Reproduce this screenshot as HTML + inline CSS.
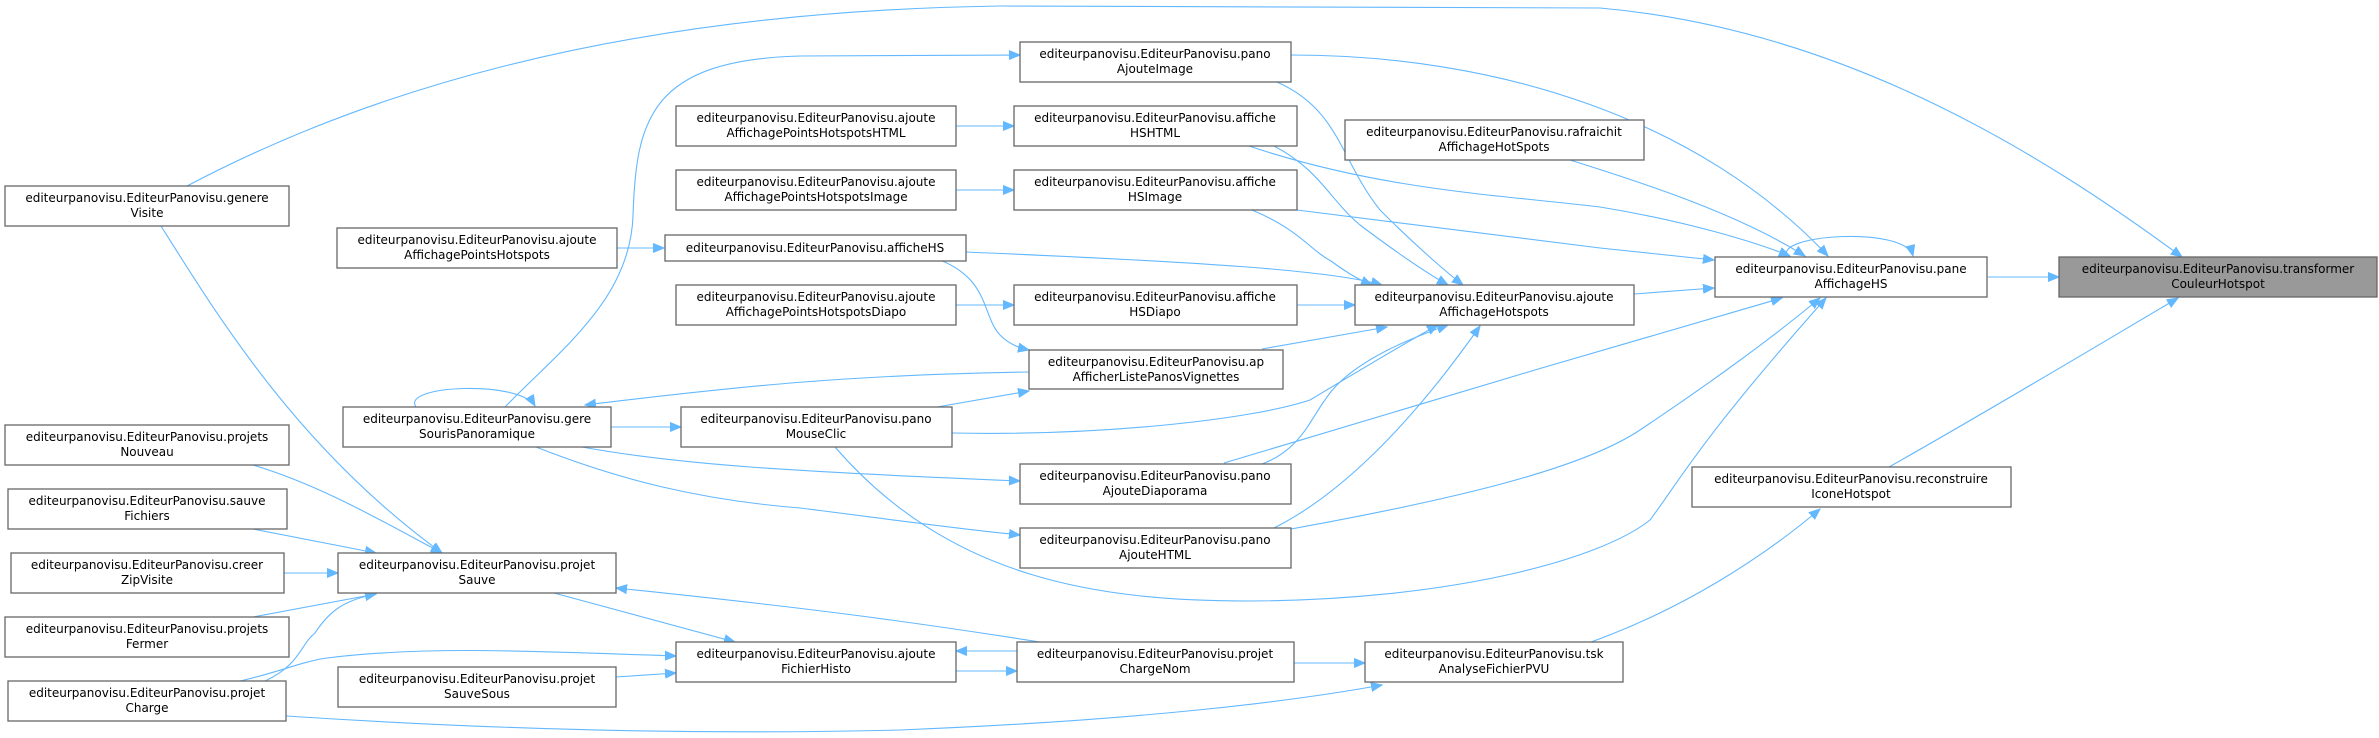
<!DOCTYPE html>
<html><head><meta charset="utf-8"><style>
html,body{margin:0;padding:0;background:#fff;}
svg{display:block;}
text{font-family:"DejaVu Sans","Liberation Sans",sans-serif;font-size:12px;fill:#000;text-anchor:middle;}
.n{fill:#fff;stroke:#666;stroke-width:1.3;}
.g{fill:#999;stroke:#666;stroke-width:1.3;}
path.e{fill:none;stroke:#63b8ff;stroke-width:1.1;marker-end:url(#a);}
</style></head><body>
<svg width="2379" height="738" viewBox="0 0 2379 738" xmlns="http://www.w3.org/2000/svg">
<defs><marker id="a" markerUnits="userSpaceOnUse" markerWidth="12" markerHeight="10" refX="11" refY="5" orient="auto"><path d="M0,0.5 L11,5 L0,9.5 z" fill="#63b8ff" stroke="#63b8ff"/></marker></defs>

<!-- edges -->
<path class="e" d="M1988,277 L2059,277"/>
<path class="e" d="M187,186 C350,100 600,12 1000,6 L1600,8 C1850,30 2050,160 2182,257"/>
<path class="e" d="M1889,467 C1990,410 2090,350 2178,298"/>
<path class="e" d="M1788,257 C1770,235 1905,225 1913,256"/>
<path class="e" d="M1291,55 C1500,55 1700,120 1828,256"/>
<path class="e" d="M1570,160 C1650,185 1740,215 1805,256"/>
<path class="e" d="M1249,146 C1380,190 1500,195 1600,207 C1680,220 1750,240 1790,256"/>
<path class="e" d="M1297,210 L1600,248 L1714,260"/>
<path class="e" d="M1634,294 L1714,288"/>
<path class="e" d="M1224,463 C1400,410 1600,350 1782,298"/>
<path class="e" d="M1291,529 C1450,500 1580,470 1640,430 C1700,390 1770,340 1820,298"/>
<path class="e" d="M835,447 C950,580 1100,601 1250,601 C1450,600 1600,560 1650,520 C1680,480 1700,440 1826,298"/>
<path class="e" d="M1591,642 C1680,610 1760,560 1820,509"/>
<path class="e" d="M286,716 C500,730 700,735 900,730 C1150,720 1300,700 1382,685"/>
<path class="e" d="M1294,663 L1365,663"/>
<path class="e" d="M1017,651 L956,651"/>
<path class="e" d="M956,671 L1017,671"/>
<path class="e" d="M1040,642 C900,620 800,607 616,588"/>
<path class="e" d="M554,593 L735,642"/>
<path class="e" d="M616,677 L676,673"/>
<path class="e" d="M240,681 C280,672 300,662 327,658 C430,645 550,652 676,656"/>
<path class="e" d="M265,681 C300,665 300,645 315,633 C330,610 345,600 376,594"/>
<path class="e" d="M253,617 L376,594"/>
<path class="e" d="M284,573 L338,573"/>
<path class="e" d="M253,529 L376,553"/>
<path class="e" d="M253,465 C320,485 380,520 442,553"/>
<path class="e" d="M161,226 C220,320 300,450 442,553"/>
<path class="e" d="M416,407 C400,385 520,380 535,406"/>
<path class="e" d="M505,407 C560,350 630,300 633,216 C636,120 650,60 800,56 L1020,55"/>
<path class="e" d="M611,427 L681,427"/>
<path class="e" d="M582,447 C680,465 800,472 1020,481"/>
<path class="e" d="M536,447 C620,480 700,500 800,508 C880,518 950,528 1020,535"/>
<path class="e" d="M1029,372 C850,375 750,385 585,405"/>
<path class="e" d="M937,407 L1029,391"/>
<path class="e" d="M940,260 C990,280 982,316 1000,335 C1010,345 1020,348 1029,350"/>
<path class="e" d="M1262,349 L1387,327"/>
<path class="e" d="M617,248 L664,248"/>
<path class="e" d="M956,126 L1014,126"/>
<path class="e" d="M956,190 L1014,190"/>
<path class="e" d="M956,305 L1014,305"/>
<path class="e" d="M1297,305 L1355,305"/>
<path class="e" d="M966,252 C1200,262 1330,270 1382,285"/>
<path class="e" d="M1252,210 C1300,230 1310,250 1331,261 C1350,275 1360,280 1372,285"/>
<path class="e" d="M1274,146 C1320,170 1330,200 1360,225 C1400,255 1430,275 1448,285"/>
<path class="e" d="M1277,82 C1340,110 1340,160 1380,210 C1420,250 1450,275 1463,285"/>
<path class="e" d="M952,433 C1100,436 1250,420 1310,400 C1360,370 1410,340 1438,325"/>
<path class="e" d="M1262,464 C1300,450 1310,420 1325,400 C1350,360 1420,335 1448,325"/>
<path class="e" d="M1274,528 C1330,500 1400,440 1480,326"/>

<!-- nodes -->
<rect class="n" x="5" y="186" width="284" height="40"/><text x="147" y="202">editeurpanovisu.EditeurPanovisu.genere</text><text x="147" y="217">Visite</text>
<rect class="n" x="337" y="228" width="280" height="40"/><text x="477" y="244">editeurpanovisu.EditeurPanovisu.ajoute</text><text x="477" y="259">AffichagePointsHotspots</text>
<rect class="n" x="343" y="407" width="268" height="40"/><text x="477" y="423">editeurpanovisu.EditeurPanovisu.gere</text><text x="477" y="438">SourisPanoramique</text>
<rect class="n" x="5" y="425" width="284" height="40"/><text x="147" y="441">editeurpanovisu.EditeurPanovisu.projets</text><text x="147" y="456">Nouveau</text>
<rect class="n" x="8" y="489" width="279" height="40"/><text x="147" y="505">editeurpanovisu.EditeurPanovisu.sauve</text><text x="147" y="520">Fichiers</text>
<rect class="n" x="11" y="553" width="273" height="40"/><text x="147" y="569">editeurpanovisu.EditeurPanovisu.creer</text><text x="147" y="584">ZipVisite</text>
<rect class="n" x="338" y="553" width="278" height="40"/><text x="477" y="569">editeurpanovisu.EditeurPanovisu.projet</text><text x="477" y="584">Sauve</text>
<rect class="n" x="5" y="617" width="284" height="40"/><text x="147" y="633">editeurpanovisu.EditeurPanovisu.projets</text><text x="147" y="648">Fermer</text>
<rect class="n" x="8" y="681" width="278" height="40"/><text x="147" y="697">editeurpanovisu.EditeurPanovisu.projet</text><text x="147" y="712">Charge</text>
<rect class="n" x="338" y="667" width="278" height="40"/><text x="477" y="683">editeurpanovisu.EditeurPanovisu.projet</text><text x="477" y="698">SauveSous</text>
<rect class="n" x="676" y="106" width="280" height="40"/><text x="816" y="122">editeurpanovisu.EditeurPanovisu.ajoute</text><text x="816" y="137">AffichagePointsHotspotsHTML</text>
<rect class="n" x="676" y="170" width="280" height="40"/><text x="816" y="186">editeurpanovisu.EditeurPanovisu.ajoute</text><text x="816" y="201">AffichagePointsHotspotsImage</text>
<rect class="n" x="665" y="235" width="301" height="26"/><text x="815" y="252">editeurpanovisu.EditeurPanovisu.afficheHS</text>
<rect class="n" x="676" y="285" width="280" height="40"/><text x="816" y="301">editeurpanovisu.EditeurPanovisu.ajoute</text><text x="816" y="316">AffichagePointsHotspotsDiapo</text>
<rect class="n" x="681" y="407" width="271" height="40"/><text x="816" y="423">editeurpanovisu.EditeurPanovisu.pano</text><text x="816" y="438">MouseClic</text>
<rect class="n" x="676" y="642" width="280" height="40"/><text x="816" y="658">editeurpanovisu.EditeurPanovisu.ajoute</text><text x="816" y="673">FichierHisto</text>
<rect class="n" x="1020" y="42" width="271" height="40"/><text x="1155" y="58">editeurpanovisu.EditeurPanovisu.pano</text><text x="1155" y="73">AjouteImage</text>
<rect class="n" x="1014" y="106" width="283" height="40"/><text x="1155" y="122">editeurpanovisu.EditeurPanovisu.affiche</text><text x="1155" y="137">HSHTML</text>
<rect class="n" x="1014" y="170" width="283" height="40"/><text x="1155" y="186">editeurpanovisu.EditeurPanovisu.affiche</text><text x="1155" y="201">HSImage</text>
<rect class="n" x="1014" y="285" width="283" height="40"/><text x="1155" y="301">editeurpanovisu.EditeurPanovisu.affiche</text><text x="1155" y="316">HSDiapo</text>
<rect class="n" x="1029" y="350" width="254" height="39"/><text x="1156" y="366">editeurpanovisu.EditeurPanovisu.ap</text><text x="1156" y="381">AfficherListePanosVignettes</text>
<rect class="n" x="1020" y="464" width="271" height="40"/><text x="1155" y="480">editeurpanovisu.EditeurPanovisu.pano</text><text x="1155" y="495">AjouteDiaporama</text>
<rect class="n" x="1020" y="528" width="271" height="40"/><text x="1155" y="544">editeurpanovisu.EditeurPanovisu.pano</text><text x="1155" y="559">AjouteHTML</text>
<rect class="n" x="1017" y="642" width="277" height="40"/><text x="1155" y="658">editeurpanovisu.EditeurPanovisu.projet</text><text x="1155" y="673">ChargeNom</text>
<rect class="n" x="1345" y="120" width="299" height="40"/><text x="1494" y="136">editeurpanovisu.EditeurPanovisu.rafraichit</text><text x="1494" y="151">AffichageHotSpots</text>
<rect class="n" x="1355" y="285" width="279" height="40"/><text x="1494" y="301">editeurpanovisu.EditeurPanovisu.ajoute</text><text x="1494" y="316">AffichageHotspots</text>
<rect class="n" x="1365" y="642" width="258" height="40"/><text x="1494" y="658">editeurpanovisu.EditeurPanovisu.tsk</text><text x="1494" y="673">AnalyseFichierPVU</text>
<rect class="n" x="1715" y="257" width="272" height="40"/><text x="1851" y="273">editeurpanovisu.EditeurPanovisu.pane</text><text x="1851" y="288">AffichageHS</text>
<rect class="n" x="1692" y="467" width="319" height="40"/><text x="1851" y="483">editeurpanovisu.EditeurPanovisu.reconstruire</text><text x="1851" y="498">IconeHotspot</text>
<rect class="g" x="2059" y="257" width="318" height="40"/><text x="2218" y="273">editeurpanovisu.EditeurPanovisu.transformer</text><text x="2218" y="288">CouleurHotspot</text>
</svg>
</body></html>
